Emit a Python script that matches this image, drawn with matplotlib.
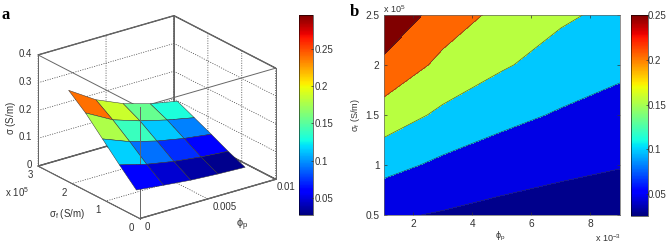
import numpy as np
import matplotlib
matplotlib.use('Agg')
import matplotlib.pyplot as plt
from matplotlib import cm
from matplotlib.colors import Normalize
from mpl_toolkits.mplot3d import proj3d

plt.rcParams['font.family'] = ['Liberation Sans', 'DejaVu Sans']
plt.rcParams['mathtext.fontset'] = 'custom'
plt.rcParams['mathtext.rm'] = 'Liberation Sans'
plt.rcParams['mathtext.it'] = 'Liberation Sans'
plt.rcParams['font.size'] = 7

# volume fraction and filler conductivity grid
phi_p = [0.001, 0.003, 0.005, 0.007, 0.009]
sigma_f = [0.5e5, 1.0e5, 1.5e5, 2.0e5, 2.5e5]

# composite conductivity, one list per sigma_f
sigma_05 = [0.057, 0.046, 0.036, 0.030, 0.026]
sigma_10 = [0.116, 0.090, 0.072, 0.060, 0.052]
sigma_15 = [0.178, 0.140, 0.114, 0.095, 0.082]
sigma_20 = [0.240, 0.187, 0.155, 0.130, 0.110]
sigma_25 = [0.290, 0.228, 0.186, 0.157, 0.138]

levels_b = [0.02, 0.05, 0.10, 0.15, 0.20, 0.25, 0.30]
colors_b = ['#00008c', '#0000e6', '#00c8ff', '#b8ff40', '#ff6600', '#800000']

x_ticks_a = [0, 0.005, 0.01]
y_ticks_a = [0, 1e5, 2e5, 3e5]
z_ticks_a = [0, 0.1, 0.2, 0.3, 0.4]
x_labels_a = ['0', '0.005', '0.01']
y_labels_a = ['0', '1', '2', '3']
z_labels_a = ['0', '0.1', '0.2', '0.3', '0.4']

GRAY = '#666666'
TXT = '#333333'

X, Y = np.meshgrid(phi_p, sigma_f)
Z = np.array([sigma_05, sigma_10, sigma_15, sigma_20, sigma_25])

W, H = 668.0, 243.0
fig = plt.figure(figsize=(6.68, 2.43), dpi=100)


def box(x0, y0, x1, y1):
    return [x0 / W, 1 - y1 / H, (x1 - x0) / W, (y1 - y0) / H]


# --- a ---
ax = fig.add_axes(box(13.5, -4.5, 293.5, 245.5), projection='3d', proj_type='ortho', computed_zorder=False)
ax.view_init(elev=22.7, azim=-126.8)
ax.set_box_aspect((1, 1, 0.71), zoom=1.043)
ax.patch.set_alpha(0)
ax.set_xlim(0, 0.01)
ax.set_ylim(0, 3e5)
ax.set_zlim(0, 0.4)
ax.set_xticks(x_ticks_a)
ax.set_yticks(y_ticks_a)
ax.set_zticks(z_ticks_a)
ax.set_xticklabels([])
ax.set_yticklabels([])
ax.set_zticklabels([])
for a in [ax.xaxis, ax.yaxis, ax.zaxis]:
    a.set_pane_color((1, 1, 1, 1))
    a.pane.set_edgecolor(GRAY)
    a.line.set_color(GRAY)
    a.line.set_linewidth(0.7)
    a._axinfo['grid'].update(color='#333333', linestyle=(0, (1.5, 2)), linewidth=0.5)
    a._axinfo['tick'].update(inward_factor=0, outward_factor=0)

# front edges of the box
c = [(0, 0), (0.01, 0), (0.01, 3e5), (0, 3e5)]
for i in range(4):
    p, q = c[i], c[(i + 1) % 4]
    ax.plot([p[0], q[0]], [p[1], q[1]], [0.4, 0.4], color=GRAY, lw=0.7, zorder=1)
    ax.plot([p[0], q[0]], [p[1], q[1]], [0, 0], color=GRAY, lw=0.7, zorder=1)
    ax.plot([p[0], p[0]], [p[1], p[1]], [0, 0.4], color=GRAY, lw=0.7, zorder=1)

cnorm_a = Normalize(0.0267, 0.296)
ax.plot_surface(X, Y, Z, rstride=1, cstride=1, facecolors=cm.jet(cnorm_a(Z)), shade=False,
                edgecolor='#333333', linewidth=0.35, antialiased=True, zorder=3)
ax.plot([0, 0], [0, 0], [0.2, 0.4], color=GRAY, lw=0.7, zorder=4)


# tick labels sit at a pixel offset from the projected tick
def tick3d(x, y, z, label, dx, dy, ha='center'):
    px, py, _ = proj3d.proj_transform(x, y, z, ax.get_proj())
    ax.annotate(label, xy=(px, py), xytext=(dx * 0.72, dy * 0.72), textcoords='offset points',
                ha=ha, va='center', color=TXT, fontsize=7, annotation_clip=False)


x_offsets = [8, 17, 10]
for t, lab, d in zip(x_ticks_a, x_labels_a, x_offsets):
    tick3d(t, 0, 0, lab, d, -8)
for t, lab in zip(y_ticks_a, y_labels_a):
    tick3d(0, t, 0, lab, -8, -9)
for t, lab in zip(z_ticks_a, z_labels_a):
    tick3d(0, 3e5, t, lab, -6, 1, ha='right')

cax = fig.add_axes(box(299, 15, 313, 215))
cb = fig.colorbar(cm.ScalarMappable(cnorm_a, 'jet'), cax=cax, ticks=[0.05, 0.1, 0.15, 0.2, 0.25])
cax.set_yticklabels(['0.05', '0.1', '0.15', '0.2', '0.25'])
cax.tick_params(length=1.5, width=0.5, pad=1, colors=TXT, direction='in')
cb.outline.set_linewidth(0.4)

fig.text(2 / W, 1 - 15 / H + 0.0, 'a', fontsize=12, fontweight='bold', family='Liberation Serif', va='center')
fig.text(11 / W, 1 - 118 / H, r'$\sigma$ (S/m)', rotation=90, ha='center', va='center', color=TXT)
fig.text(67 / W, 1 - 214 / H, r'$\sigma_f$ (S/m)', ha='center', va='center', color=TXT, rotation=0)
fig.text(5 / W, 1 - 192 / H, r'x 10$^5$', va='center', color=TXT)
fig.text(242 / W, 1 - 225 / H, r'$\phi_p$', ha='center', va='center', color=TXT, fontsize=8)

# --- b ---
ax2 = fig.add_axes(box(383.7, 15, 620, 215))
ax2.contourf(X, Y, Z, levels=levels_b, colors=colors_b)
ax2.contour(X, Y, Z, levels=levels_b[1:-1], colors='#333333', linewidths=0.35)
ax2.set_xlim(0.001, 0.009)
ax2.set_ylim(0.5e5, 2.5e5)
ax2.set_xticks([0.002, 0.004, 0.006, 0.008])
ax2.set_xticklabels(['2', '4', '6', '8'])
ax2.set_yticks([0.5e5, 1e5, 1.5e5, 2e5, 2.5e5])
ax2.set_yticklabels(['0.5', '1', '1.5', '2', '2.5'])
ax2.tick_params(length=2, width=0.5, pad=3, colors=TXT, direction='in', top=True, right=True, labelsize=7.3)
for s in ax2.spines.values():
    s.set_linewidth(0.5)
    s.set_color(GRAY)

cax2 = fig.add_axes(box(631, 15, 647.7, 215.5))
cb2 = fig.colorbar(cm.ScalarMappable(Normalize(0.026, 0.25), 'jet'), cax=cax2, ticks=[0.05, 0.1, 0.15, 0.2, 0.25])
cax2.set_yticklabels(['0.05', '0.1', '0.15', '0.2', '0.25'])
cax2.tick_params(length=1.5, width=0.5, pad=0, colors=TXT, direction='in')
cb2.outline.set_linewidth(0.4)

fig.text(350 / W, 1 - 12 / H, 'b', fontsize=12, fontweight='bold', family='Liberation Serif', va='center')
fig.text(356 / W, 1 - 115 / H, r'$\sigma_f$ (S/m)', rotation=90, ha='center', va='center', color=TXT, fontsize=6.5)
fig.text(383 / W, 1 - 9 / H, r'x 10$^5$', va='center', color=TXT, fontsize=6.5)
fig.text(500 / W, 1 - 236 / H, r'$\phi_p$', ha='center', va='center', color=TXT, fontsize=6.5)
fig.text(595 / W, 1 - 238 / H, r'x 10$^{-3}$', va='center', color=TXT, fontsize=6.5)

fig.savefig('out.png', dpi=100)
